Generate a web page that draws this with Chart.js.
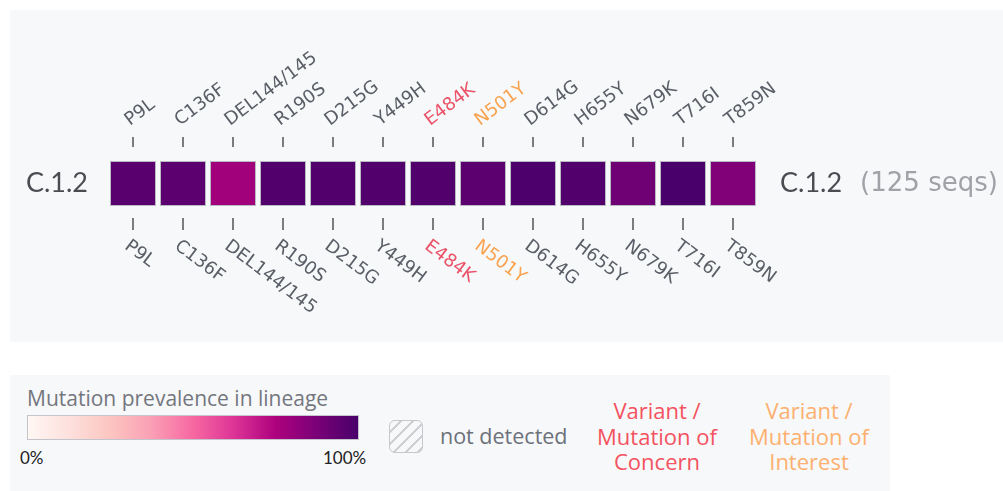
<!DOCTYPE html>
<html>
<head>
<meta charset="utf-8">
<script src="https://cdn.jsdelivr.net/npm/chart.js@4/dist/chart.umd.min.js"></script>
<style>
  body { margin: 0; width: 1003px; height: 491px; background: #fff; position: relative; overflow: hidden; font-family: "Open Sans", sans-serif; }
  #panel { position: absolute; left: 10px; top: 10px; width: 993px; height: 332px; background: #f7f8fa; }
  #legend { position: absolute; left: 10px; top: 375px; width: 880px; height: 116px; background: #f7f8fa; }
  .abs { position: absolute; white-space: nowrap; }
  #scaleTitle { left: 17px; top: 9px; font-size: 21px; color: #73767d; }
  #scaleBar { left: 17px; top: 40px; width: 330px; height: 23px; border: 1px solid #c4c4cc; }
  #lo { left: 10px; top: 72px; font-size: 17px; color: #222; font-family: Lato, sans-serif; }
  #hi { left: 313px; top: 72px; font-size: 17px; color: #222; font-family: Lato, sans-serif; }
  #hatch { left: 379px; top: 45px; width: 32px; height: 31px; border: 1.5px solid #c8c8cc; border-radius: 6px;
    background: repeating-linear-gradient(135deg, transparent 0 7px, #cfcfd4 7px 8.5px); }
  #nd { left: 430px; top: 46px; font-size: 21.5px; color: #6c717a; }
  .kind { text-align: center; font-size: 22px; line-height: 25.5px; top: 23px; }
  #voc { left: 587px; width: 120px; color: #f4525e; }
  #voi { left: 739px; width: 120px; color: #fdb06f; }
</style>
</head>
<body>
<div id="panel"><canvas id="heat" width="993" height="332"></canvas></div>
<div id="legend">
  <div class="abs" id="scaleTitle">Mutation prevalence in lineage</div>
  <div class="abs" id="scaleBar"></div>
  <div class="abs" id="lo">0%</div>
  <div class="abs" id="hi">100%</div>
  <div class="abs" id="hatch"></div>
  <div class="abs" id="nd">not detected</div>
  <div class="abs kind" id="voc">Variant /<br>Mutation of<br>Concern</div>
  <div class="abs kind" id="voi">Variant /<br>Mutation of<br>Interest</div>
</div>
<script>
// lineage + mutations
const lineage = 'C.1.2';
const seqCount = 125;
const mutations = ['P9L', 'C136F', 'DEL144/145', 'R190S', 'D215G', 'Y449H', 'E484K', 'N501Y', 'D614G', 'H655Y', 'N679K', 'T716I', 'T859N'];
// prevalence in lineage, percent
const prevalence = [96, 95, 78, 98, 98, 98, 98, 95, 99, 98, 90, 100, 86];
const concern = ['E484K'];
const interest = ['N501Y'];

// RdPu colour scale
const scaleStops = ['#fff7f3', '#fde0dd', '#fcc5c0', '#fa9fb5', '#f768a1', '#dd3497', '#ae017e', '#7a0177', '#49006a'];

function hexToRgb(h) {
    return [1, 3, 5].map(i => parseInt(h.substr(i, 2), 16));
}

function colorFor(pct) {
    const t = Math.max(0, Math.min(1, pct / 100)) * (scaleStops.length - 1);
    const i = Math.min(Math.floor(t), scaleStops.length - 2);
    const f = t - i;
    const a = hexToRgb(scaleStops[i]), b = hexToRgb(scaleStops[i + 1]);
    const c = a.map((v, k) => Math.round(v + (b[k] - v) * f));
    return `rgb(${c[0]},${c[1]},${c[2]})`;
}

document.getElementById('scaleBar').style.background =
    `linear-gradient(to right, ${scaleStops.join(', ')})`;

function labelColor(m) {
    if (concern.includes(m)) return '#ea5369';
    if (interest.includes(m)) return '#f9a24e';
    return '#5a5e66';
}

const ANGLE = 37 * Math.PI / 180;

// draws the mutation names, tick marks and row labels around the cells
const heatLabels = {
    id: 'heatLabels',
    afterDatasetsDraw(chart) {
        const ctx = chart.ctx;
        const xs = chart.scales.x;
        const area = chart.chartArea;
        const midY = (area.top + area.bottom) / 2;
        ctx.save();

        mutations.forEach((m, i) => {
            const cx = xs.getPixelForValue(i);
            // tick marks
            ctx.strokeStyle = '#7b7b80';
            ctx.lineWidth = 2;
            ctx.beginPath();
            ctx.moveTo(cx, area.top - 24); ctx.lineTo(cx, area.top - 14);
            ctx.moveTo(cx, area.bottom + 12); ctx.lineTo(cx, area.bottom + 24);
            ctx.stroke();

            ctx.font = '18px "DejaVu Sans"';
            ctx.fillStyle = labelColor(m);
            ctx.textAlign = 'left';

            // top label, reading upwards
            ctx.save();
            ctx.translate(cx - 3, area.top - 35);
            ctx.rotate(-ANGLE);
            ctx.textBaseline = 'alphabetic';
            ctx.fillText(m, 0, 0);
            ctx.restore();

            // bottom label, reading downwards
            ctx.save();
            ctx.translate(cx - 1, area.bottom + 31);
            ctx.rotate(ANGLE);
            ctx.textBaseline = 'top';
            ctx.fillText(m, 0, 0);
            ctx.restore();
        });

        // row labels
        ctx.textBaseline = 'middle';
        ctx.font = '27px Lato';
        ctx.fillStyle = '#4a4c52';
        ctx.textAlign = 'right';
        ctx.fillText(lineage, area.left - 20, midY);
        ctx.textAlign = 'left';
        const rx = area.right + 22;
        ctx.fillText(lineage, rx, midY);
        const w = ctx.measureText(lineage).width;
        ctx.font = '26px "DejaVu Sans"';
        ctx.fillStyle = '#a0a2a8';
        ctx.fillText(`(${seqCount} seqs)`, rx + w + 18, midY + 1);
        ctx.restore();
    }
};

new Chart(document.getElementById('heat'), {
    type: 'bar',
    data: {
        labels: mutations,
        datasets: [{
            data: mutations.map(() => 1),
            backgroundColor: prevalence.map(colorFor),
            borderColor: 'rgba(160,160,172,0.7)',
            borderWidth: 1,
            borderSkipped: false,
            barPercentage: 0.92,
            categoryPercentage: 1
        }]
    },
    options: {
        responsive: false,
        animation: false,
        layout: { padding: { left: 98, right: 245, top: 151, bottom: 136 } },
        scales: {
            x: { display: false, offset: true },
            y: { display: false, min: 0, max: 1 }
        },
        plugins: {
            legend: { display: false },
            tooltip: { enabled: false }
        }
    },
    plugins: [heatLabels]
});
</script>
</body>
</html>
